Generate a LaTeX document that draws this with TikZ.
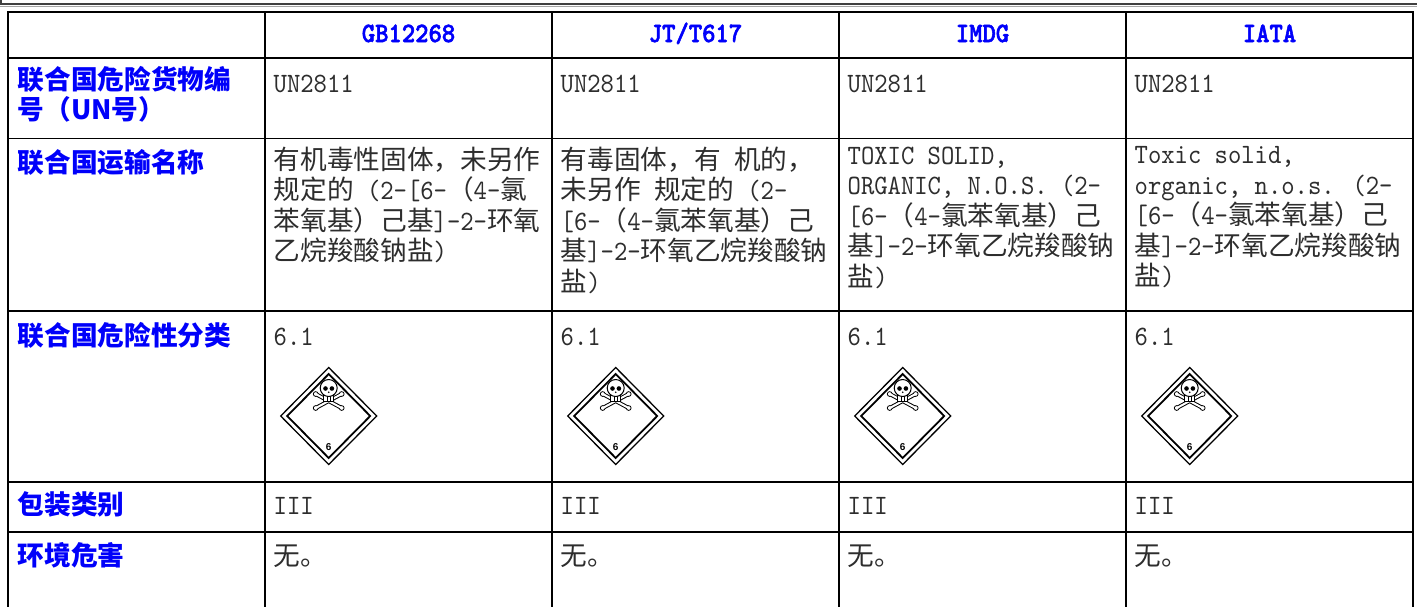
\documentclass[tikz,border=0pt]{standalone}
\usepackage{fontspec}
\setmainfont{lmmono10-regular.otf}[Scale=1.05, FakeStretch=0.907]
\newfontfamily\headfont{lmmonolt10-bold.otf}[Scale=1.05, FakeStretch=0.907, FakeBold=2]
\newfontfamily\zhfont{Noto Sans CJK SC}
\newfontfamily\signfont{Liberation Sans}
\newcommand\zh[1]{{\zhfont #1}}
\newcommand\cellrule{\rule{0pt}{26pt}}
\definecolor{labelblue}{RGB}{0,0,250}
\definecolor{celltext}{RGB}{45,45,45}

\tikzset{
    grid line/.style={line width=1.8pt, black, line cap=rect},
    rowlabel/.style={anchor=north west, inner sep=0pt, align=left, text=labelblue,
        font=\fontsize{26.67}{30.5}\selectfont\zhfont\bfseries, execute at begin node=\cellrule},
    headtext/.style={anchor=base, inner sep=0pt, text=labelblue,
        font=\fontsize{26.67}{30.5}\selectfont\headfont},
    cellbox/.style={anchor=north west, inner sep=0pt, align=left, text=celltext,
        font=\fontsize{26.67}{30.5}\selectfont, execute at begin node=\cellrule},
    toxic/.pic={
        \draw[line width=1.3pt] (0,-48.5) -- (48,0) -- (0,48.5) -- (-48,0) -- cycle;
        \draw[line width=1.8pt] (0,-42) -- (41.5,0) -- (0,42) -- (-41.5,0) -- cycle;
        % crossed bones
        \draw[line width=4pt, line cap=round] (-13,-22) -- (13,-8) (13,-22) -- (-13,-8);
        \foreach \bx/\by in {-13/-22, 13/-22, -13/-8, 13/-8}
            \draw[line width=.8pt, fill=white] (\bx,\by) circle (2.4pt);
        \draw[line width=2pt, white, line cap=round] (-12,-21.5) -- (12,-8.5) (12,-21.5) -- (-12,-8.5);
        % skull
        \draw[line width=1pt, fill=white] (-5,-21) rectangle (5,-14.5);
        \draw[line width=.6pt] (-1.7,-21) -- (-1.7,-14.5) (1.7,-21) -- (1.7,-14.5);
        \draw[line width=1pt, fill=white] (0,-28) circle (8.5pt);
        \fill (-3.2,-27.5) circle (2.3pt) (3.2,-27.5) circle (2.3pt);
        \fill (0,-23.8) circle (.9pt);
        \node[inner sep=0pt, font=\fontsize{10}{10}\selectfont\signfont\bfseries] (-num) at (0,31) {6};
    }
}

\begin{document}
\begin{tikzpicture}[x=1pt, y=-1pt]
    \useasboundingbox (0,0) rectangle (1417,606);

    % frame above the table
    \draw[line width=1.2pt, black!75] (0,4) -- (1417,4);
    \draw[line width=1pt, black!35] (0,6.5) -- (1417,6.5);
    \draw[line width=1.2pt, black!75] (1,0) -- (1,4);

    % table rules
    \foreach \y in {12,58,138.5,311,482,532}
        \draw[grid line] (8,\y) -- (1413,\y);
    \foreach \x in {8,265,552,839,1126,1413}
        \draw[grid line] (\x,12) -- (\x,606);

    % header
    \node[headtext] (hgb) at (408.5,42) {GB12268};
    \node[headtext] (hjt) at (695.5,42) {JT/T617};
    \node[headtext] (himdg) at (982.5,42) {IMDG};
    \node[headtext] (hiata) at (1269.5,42) {IATA};

    % row labels
    \node[rowlabel] (lun) at (17.5,66) {联合国危险货物编\\号（UN号）};
    \node[rowlabel] (lname) at (17.5,146.5) {联合国运输名称};
    \node[rowlabel] (lclass) at (17.5,319) {联合国危险性分类};
    \node[rowlabel] (lpack) at (17.5,488) {包装类别};
    \node[rowlabel] (lenv) at (17.5,539) {环境危害};

    % UN number
    \node[cellbox] (ungb) at (273.5,66) {UN2811};
    \node[cellbox] (unjt) at (560.5,66) {UN2811};
    \node[cellbox] (unimdg) at (847.5,66) {UN2811};
    \node[cellbox] (uniata) at (1134.5,66) {UN2811};

    % shipping name
    \node[cellbox] (namegb) at (273.5,146.5) {\zh{有机毒性固体，未另作}\\
        \zh{规定的} (2-{[}6-\zh{（}4-\zh{氯}\\
        \zh{苯氧基）己基}]-2-\zh{环氧}\\
        \zh{乙烷羧酸钠盐})};
    \node[cellbox] (namejt) at (560.5,146.5) {\zh{有毒固体，有} \zh{机的，}\\
        \zh{未另作} \zh{规定的} (2-\\
        {[}6-\zh{（}4-\zh{氯苯氧基）己}\\
        \zh{基}]-2-\zh{环氧乙烷羧酸钠}\\
        \zh{盐})};
    \node[cellbox] (nameimdg) at (847.5,146.5) {TOXIC SOLID,\\
        ORGANIC, N.O.S. (2-\\
        {[}6-\zh{（}4-\zh{氯苯氧基）己}\\
        \zh{基}]-2-\zh{环氧乙烷羧酸钠}\\
        \zh{盐})};
    \node[cellbox] (nameiata) at (1134.5,146.5) {Toxic solid,\\
        organic, n.o.s. (2-\\
        {[}6-\zh{（}4-\zh{氯苯氧基）己}\\
        \zh{基}]-2-\zh{环氧乙烷羧酸钠}\\
        \zh{盐})};

    % class with label
    \foreach \cx/\nm in {273.5/gb, 560.5/jt, 847.5/imdg, 1134.5/iata}
        \node[cellbox] (class\nm) at (\cx,319) {6.1};
    \foreach \cx/\nm in {328.7/gb, 615.7/jt, 902.7/imdg, 1189.7/iata}
        \pic (sign\nm) at (\cx,416) {toxic};

    % packing group
    \foreach \cx/\nm in {273.5/gb, 560.5/jt, 847.5/imdg, 1134.5/iata}
        \node[cellbox] (pack\nm) at (\cx,488) {III};

    % environment
    \foreach \cx/\nm in {273.5/gb, 560.5/jt, 847.5/imdg, 1134.5/iata}
        \node[cellbox] (env\nm) at (\cx,539) {\zh{无。}};
\end{tikzpicture}
\end{document}
